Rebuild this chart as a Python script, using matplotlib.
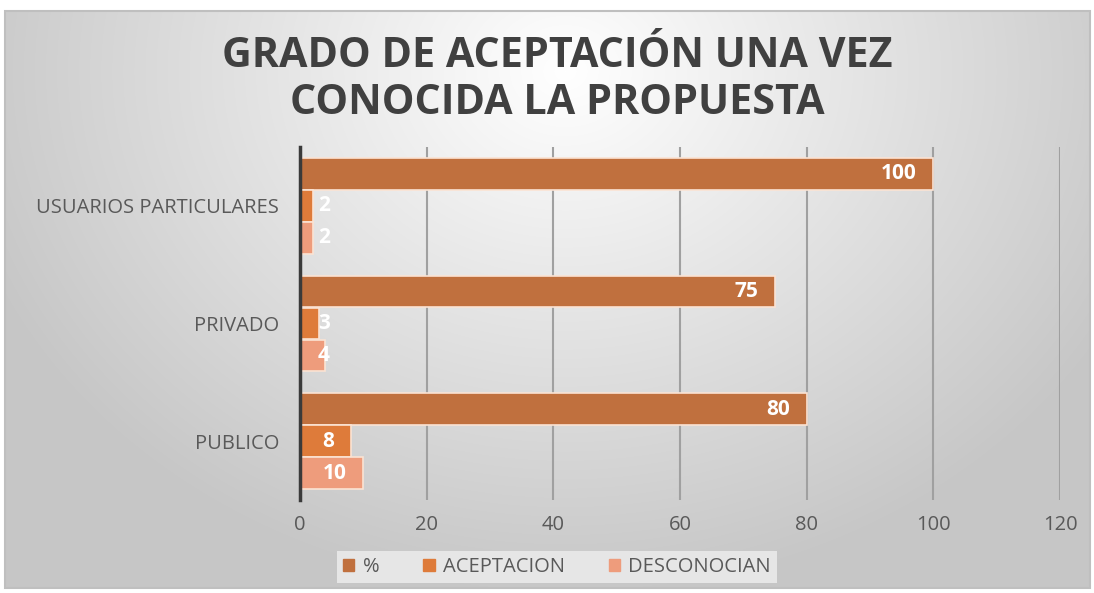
import numpy as np
import matplotlib.pyplot as plt
from matplotlib.patches import Rectangle

categories = ["PUBLICO", "PRIVADO", "USUARIOS PARTICULARES"]
series_names = ["%", "ACEPTACION", "DESCONOCIAN"]
pct = [80, 75, 100]
aceptacion = [8, 3, 2]
desconocian = [10, 4, 2]
xticks = [0, 20, 40, 60, 80, 100, 120]
title = "GRADO DE ACEPTACIÓN UNA VEZ\nCONOCIDA LA PROPUESTA"

colors = ["#C0703E", "#DE7B3A", "#EE9C7C"]

W, H = 1094, 593
fig = plt.figure(figsize=(W / 100, H / 100), dpi=100)
fig.patch.set_facecolor("white")

# background gradient panel
bg = fig.add_axes([5 / W, 1 - 588 / H, 1085 / W, 577 / H])
yy, xx = np.mgrid[0:577, 0:1085]
cx, cy = 560, 60
d = np.sqrt(((xx - cx) / 620.0) ** 2 + ((yy - cy) / 520.0) ** 2)
v = np.clip(1.0 - 0.22 * d, 0.78, 1.0)
img = np.dstack([v, v, v])
bg.imshow(img, aspect="auto", extent=[0, 1, 0, 1], origin="upper")
bg.set_axis_off()
fig.patches.append(Rectangle((5 / W, 1 - 588 / H), 1085 / W, 577 / H,
                             transform=fig.transFigure, fill=False,
                             edgecolor="#BFBFBF", linewidth=1.5, zorder=10))

ax = fig.add_axes([300 / W, 1 - 500 / H, 760 / W, 353 / H])
ax.patch.set_alpha(0)
y = np.arange(len(categories))
h = 0.268
off = 0.272
data = [pct, aceptacion, desconocian]
offsets = [off, 0, -off]
for vals, o, c, name in zip(data, offsets, colors, series_names):
    ax.barh(y + o, vals, height=h, color=c, edgecolor="#FBE3D3",
            linewidth=1.2, label=name, zorder=3)
    for yi, val in zip(y, vals):
        if val >= 6:
            ax.annotate(str(val), (val, yi + o), xytext=(-12, 0),
                        textcoords="offset points", ha="right", va="center",
                        color="white", fontsize=15, fontweight="bold",
                        family="Open Sans", zorder=5)
        else:
            ax.annotate(str(val), (0, yi + o), xytext=(13, 0),
                        textcoords="offset points", ha="left", va="center",
                        color="white", fontsize=15, fontweight="bold",
                        family="Open Sans", zorder=5)

ax.set_xlim(0, 120)
ax.set_ylim(-0.5, 2.5)
ax.set_xticks(xticks)
ax.set_xticklabels([str(t) for t in xticks], family="Open Sans", fontsize=14.5,
                   color="#595959")
ax.set_yticks(y)
ax.set_yticklabels(categories, family="Open Sans", fontsize=14.5,
                   color="#595959")
ax.tick_params(length=0)
ax.tick_params(axis="x", pad=11)
ax.tick_params(axis="y", pad=15)
ax.grid(axis="x", color="#A0A0A0", linewidth=1.5, zorder=0)
for s in ["top", "right", "bottom"]:
    ax.spines[s].set_visible(False)
ax.spines["left"].set_color("#3A3A3A")
ax.spines["left"].set_linewidth(2.5)
ax.spines["left"].set_zorder(6)

fig.text(557 / W, 1 - 80 / H, title, ha="center", va="center",
         family="Open Sans", fontweight="bold",
         fontsize=29.7, color="#404040", linespacing=1.2)

handles = [Rectangle((0, 0), 1, 1, color=c) for c in colors]
leg = fig.legend(handles, series_names, loc="center",
                 bbox_to_anchor=(557 / W, 1 - 567 / H), ncol=3, frameon=True,
                 prop={"family": "Open Sans", "size": 14.5}, handlelength=0.55,
                 handleheight=0.55, handletextpad=0.4, columnspacing=2.2,
                 borderpad=0.3)
leg.get_frame().set_facecolor("#E6E6E6")
leg.get_frame().set_edgecolor("none")
leg.get_frame().set_alpha(1)
leg.get_frame().set_boxstyle("square", pad=0)
for t in leg.get_texts():
    t.set_color("#595959")

fig.savefig("out.png", dpi=100)
